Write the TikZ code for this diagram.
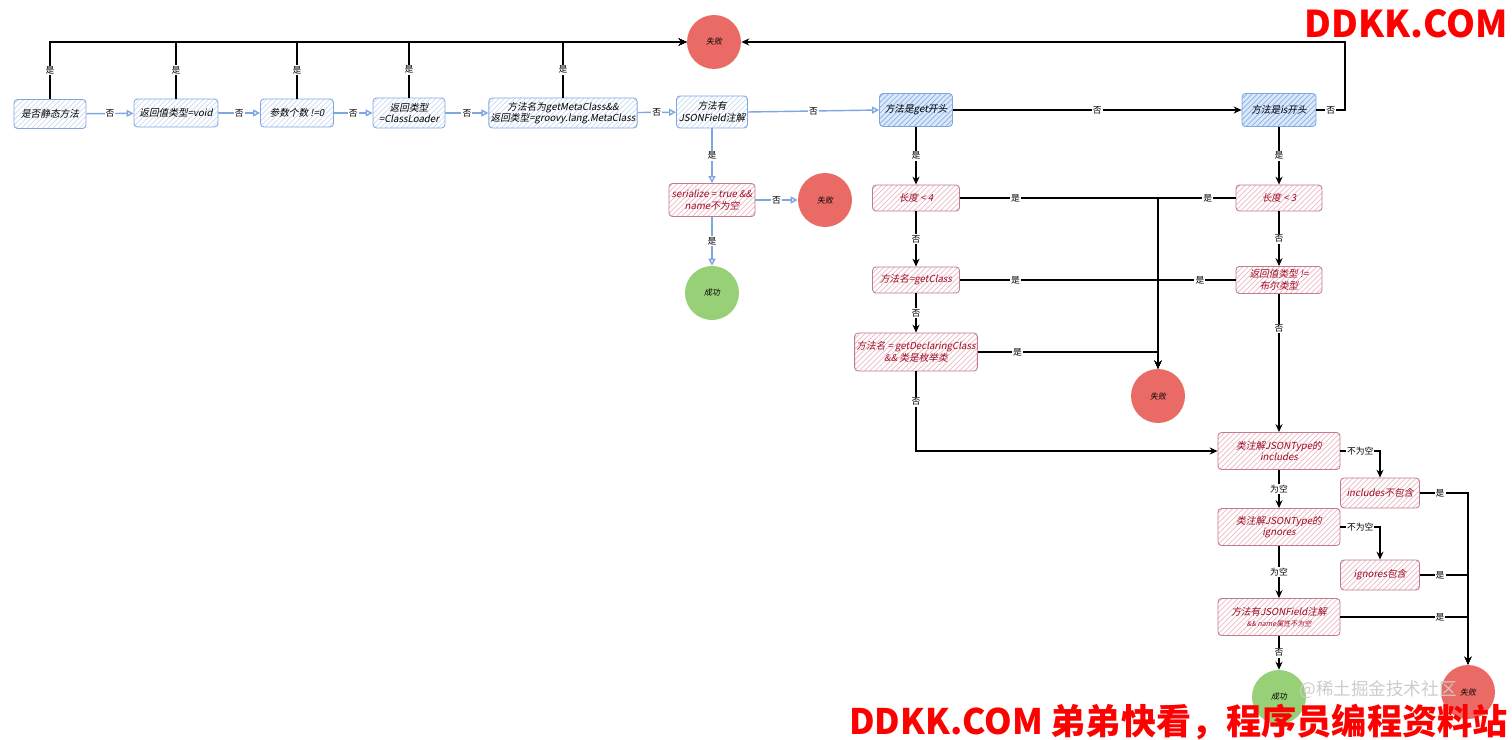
\documentclass[tikz,border=0pt]{standalone}
\usepackage{fontspec}
\setmainfont{Noto Sans CJK SC}
\newfontfamily\cjkit[FakeSlant=0.2]{Noto Sans CJK SC}
\usetikzlibrary{arrows.meta,patterns}
\definecolor{FlowBlue}{HTML}{7EA6E0}
\definecolor{FlowBlueFill}{HTML}{DAE8FC}
\definecolor{FlowRed}{HTML}{C27A8C}
\definecolor{FlowRedText}{HTML}{9E0A22}
\definecolor{FlowHatch}{HTML}{EBB9C4}
\definecolor{FailRed}{HTML}{EA6B66}
\definecolor{OkGreen}{HTML}{97D077}

\tikzset{
  bluebox/.style={draw=FlowBlue,line width=.5pt,rounded corners=2pt,pattern=north east lines,
    pattern color=FlowBlue!40,align=center,inner sep=1pt,font=\cjkit\fontsize{5.5}{6.6}\selectfont},
  getbox/.style={bluebox,preaction={fill=FlowBlueFill},pattern color=FlowBlue!90},
  redbox/.style={bluebox,draw=FlowRed,pattern color=FlowHatch,text=FlowRedText},
  fail/.style={circle,fill=FailRed,minimum size=1.08cm,inner sep=0pt,font=\cjkit\fontsize{4.5}{5}\selectfont},
  ok/.style={fail,fill=OkGreen},
  line/.style={draw,line width=.6pt,-{Stealth[length=4.5pt,width=4pt]}},
  bline/.style={draw=FlowBlue,line width=.8pt,-{Triangle[open,length=4pt,width=4pt]}},
  lbl/.style={fill=white,inner sep=.6pt,font=\fontsize{5}{5.5}\selectfont},
}

\begin{document}
\begin{tikzpicture}[x=0.02cm,y=-0.02cm]
\path[use as bounding box] (0,0) rectangle (1512,740);
% top row
\node[fail] (failtop) at (714,42) {失败};
\node[bluebox,minimum width=1.44cm,minimum height=.58cm] (static) at (50,114) {是否静态方法};
\node[bluebox,minimum width=1.68cm,minimum height=.56cm] (void) at (176,113) {返回值类型=void};
\node[bluebox,minimum width=1.46cm,minimum height=.56cm] (params) at (297,113) {参数个数 !=0};
\node[bluebox,minimum width=1.44cm,minimum height=.6cm] (loader) at (409,113) {返回类型\\=ClassLoader};
\node[bluebox,minimum width=2.92cm,minimum height=.6cm] (meta) at (563,113) {方法名为getMetaClass\&\&\\返回类型=groovy.lang.MetaClass};
\node[bluebox,minimum width=1.42cm,minimum height=.64cm] (field) at (712,112) {方法有\\JSONField注解};
\node[getbox,minimum width=1.46cm,minimum height=.66cm] (isget) at (916,110) {方法是get开头};
\node[getbox,minimum width=1.48cm,minimum height=.66cm] (isis) at (1279,110) {方法是is开头};
\coordinate (isturn) at (1345,110);

\draw[bline] (static) -- node[lbl]{否} (void);
\draw[bline] (void) -- node[lbl]{否} (params);
\draw[bline] (params) -- node[lbl]{否} (loader);
\draw[bline] (loader) -- node[lbl]{否} (meta);
\draw[bline] (meta) -- node[lbl]{否} (field);
\draw[bline] (field.east) -- node[lbl]{否} (isget.west);
\draw[line] (isget) -- node[lbl]{否} (isis);
\foreach \src in {static,void,params,loader,meta}
  \draw[line] (\src.north) |- node[lbl,pos=.25]{是} (failtop.west);
\draw[line] (isis.east) -- node[lbl]{否} (isturn) |- (failtop.east);

% JSONField branch
\node[redbox,minimum width=1.72cm,minimum height=.66cm] (serial) at (712,200) {serialize = true \&\&\\name不为空};
\node[fail] (failser) at (825,200) {失败};
\node[ok] (okser) at (712,293) {成功};
\draw[bline] (field) -- node[lbl]{是} (serial);
\draw[bline] (serial) -- node[lbl]{否} (failser);
\draw[bline] (serial) -- node[lbl]{是} (okser);

% get / is branch
\node[redbox,minimum width=1.74cm,minimum height=.52cm] (len4) at (916,198) {长度 < 4};
\node[redbox,minimum width=1.74cm,minimum height=.52cm] (getcls) at (916,280) {方法名=getClass};
\node[redbox,minimum width=2.42cm,minimum height=.76cm] (declcls) at (916,352) {方法名 = getDeclaringClass\\\&\& 类是枚举类};
\node[fail] (failmid) at (1158,396) {失败};
\node[redbox,minimum width=1.72cm,minimum height=.52cm] (len3) at (1279,198) {长度 < 3};
\node[redbox,minimum width=1.72cm,minimum height=.54cm] (retbool) at (1279,280) {返回值类型 !=\\布尔类型};

\draw[line] (isget) -- node[lbl]{是} (len4);
\draw[line] (len4) -- node[lbl]{否} (getcls);
\draw[line] (getcls) -- node[lbl]{否} (declcls);
\draw[line] (isis) -- node[lbl]{是} (len3);
\draw[line] (len3) -- node[lbl]{否} (retbool);
\draw[line] (len4.east) -| node[lbl,pos=.14]{是} (failmid.north);
\draw[line] (getcls.east) -| node[lbl,pos=.14]{是} (failmid.north);
\draw[line] (declcls.east) -| node[lbl,pos=.11]{是} (failmid.north);
\draw[line] (len3.west) -| node[lbl,pos=.18]{是} (failmid.north);
\draw[line] (retbool.west) -| node[lbl,pos=.23]{是} (failmid.north);

% JSONType checks
\node[redbox,minimum width=2.44cm,minimum height=.74cm] (incl) at (1279,451) {类注解JSONType的\\includes};
\node[redbox,minimum width=1.58cm,minimum height=.6cm] (inclno) at (1380,493) {includes不包含};
\node[redbox,minimum width=2.44cm,minimum height=.74cm] (ign) at (1279,527) {类注解JSONType的\\ignores};
\node[redbox,minimum width=1.58cm,minimum height=.6cm] (ignyes) at (1380,575) {ignores包含};
\node[redbox,minimum width=2.44cm,minimum height=.74cm] (fieldname) at (1279,617) {方法有JSONField注解\\{\fontsize{4}{5}\selectfont\&\& name属性不为空}};
\node[ok] (okend) at (1279,697) {成功};
\node[fail] (failend) at (1468,692) {失败};

\draw[line] (retbool) -- node[lbl,pos=.25]{否} (incl);
\draw[line] (declcls.south) |- node[lbl,pos=.19]{否} (incl.west);
\draw[line] (incl.east) -| node[lbl,pos=.25]{不为空} (inclno.north);
\draw[line] (incl) -- node[lbl]{为空} (ign);
\draw[line] (ign.east) -| node[lbl,pos=.25]{不为空} (ignyes.north);
\draw[line] (ign) -- node[lbl]{为空} (fieldname);
\draw[line] (fieldname) -- node[lbl]{否} (okend);
\draw[line] (inclno.east) -| node[lbl,pos=.21]{是} (failend.north);
\draw[line] (ignyes.east) -| node[lbl,pos=.21]{是} (failend.north);
\draw[line] (fieldname.east) -| node[lbl,pos=.39]{是} (failend.north);

% watermarks
\node[text=gray!40,font=\fontsize{10}{10}\selectfont] (wmjuejin) at (1378,690) {@稀土掘金技术社区};
\node[anchor=east,text=red,font=\bfseries\fontsize{21}{21}\selectfont,inner sep=0pt] (wmtop) at (1508,24) {DDKK.COM};
\node[anchor=east,text=red,font=\bfseries\fontsize{20}{20}\selectfont,inner sep=0pt] (wmbottom) at (1508,722) {DDKK.COM 弟弟快看，程序员编程资料站};
\end{tikzpicture}
\end{document}
